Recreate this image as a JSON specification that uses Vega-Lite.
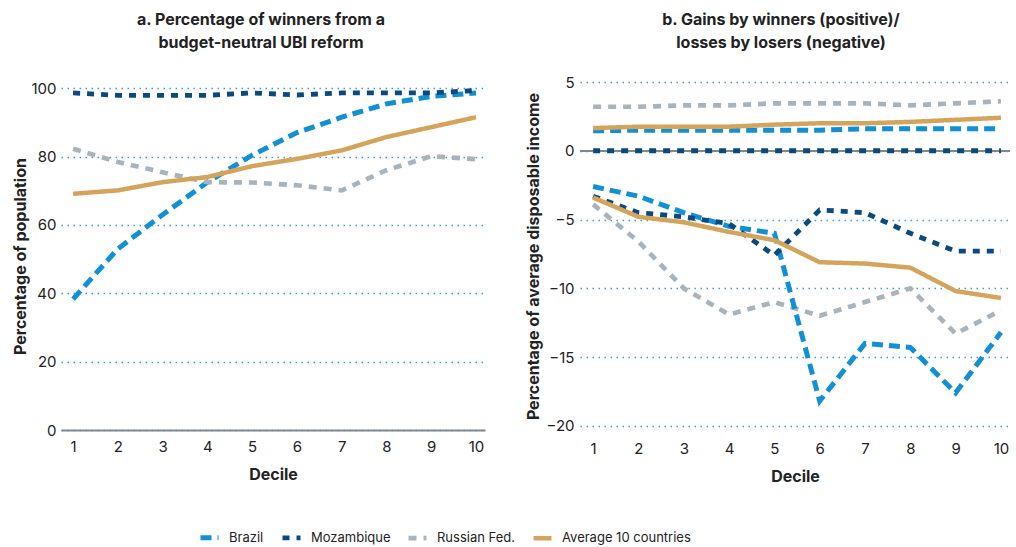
{
  "$schema": "https://vega.github.io/schema/vega-lite/v6.json",
  "padding": {"left": 12, "top": 11, "right": 4, "bottom": 4},
  "background": "white",
  "config": {
    "font": "Inter",
    "view": {"stroke": null},
    "axis": {"labelFont": "Inter", "labelFontSize": 15, "labelColor": "#222222", "titleFont": "Inter", "titleFontSize": 16, "titleFontWeight": "bold", "titleColor": "#222222", "ticks": false, "domain": false, "grid": false},
    "title": {"font": "Inter", "fontSize": 16, "fontWeight": "bold", "color": "#222222", "anchor": "middle", "lineHeight": 23},
    "legend": {"orient": "none", "legendX": 137, "legendY": 444, "direction": "horizontal", "labelFont": "Inter", "labelFontSize": 13, "labelColor": "#222222", "symbolSize": 324, "columnPadding": 8, "labelOffset": 8, "symbolStrokeWidth": 5},
    "concat": {"spacing": 38}
  },
  "datasets": {
    "a": [
      {"c": "Brazil", "d": 1, "v": 38.3}, {"c": "Brazil", "d": 2, "v": 53}, {"c": "Brazil", "d": 3, "v": 63}, {"c": "Brazil", "d": 4, "v": 72.5}, {"c": "Brazil", "d": 5, "v": 80.4}, {"c": "Brazil", "d": 6, "v": 87}, {"c": "Brazil", "d": 7, "v": 91.5}, {"c": "Brazil", "d": 8, "v": 95.4}, {"c": "Brazil", "d": 9, "v": 97.6}, {"c": "Brazil", "d": 10, "v": 98.6},
      {"c": "Mozambique", "d": 1, "v": 98.6}, {"c": "Mozambique", "d": 2, "v": 97.9}, {"c": "Mozambique", "d": 3, "v": 97.9}, {"c": "Mozambique", "d": 4, "v": 97.9}, {"c": "Mozambique", "d": 5, "v": 98.6}, {"c": "Mozambique", "d": 6, "v": 98}, {"c": "Mozambique", "d": 7, "v": 98.6}, {"c": "Mozambique", "d": 8, "v": 98.6}, {"c": "Mozambique", "d": 9, "v": 98.6}, {"c": "Mozambique", "d": 10, "v": 99.3},
      {"c": "Russian Fed.", "d": 1, "v": 82.3}, {"c": "Russian Fed.", "d": 2, "v": 78.4}, {"c": "Russian Fed.", "d": 3, "v": 75.4}, {"c": "Russian Fed.", "d": 4, "v": 72.5}, {"c": "Russian Fed.", "d": 5, "v": 72.4}, {"c": "Russian Fed.", "d": 6, "v": 71.6}, {"c": "Russian Fed.", "d": 7, "v": 70.1}, {"c": "Russian Fed.", "d": 8, "v": 76}, {"c": "Russian Fed.", "d": 9, "v": 80.1}, {"c": "Russian Fed.", "d": 10, "v": 79.2},
      {"c": "Average 10 countries", "d": 1, "v": 69.1}, {"c": "Average 10 countries", "d": 2, "v": 70.1}, {"c": "Average 10 countries", "d": 3, "v": 72.5}, {"c": "Average 10 countries", "d": 4, "v": 74}, {"c": "Average 10 countries", "d": 5, "v": 77.2}, {"c": "Average 10 countries", "d": 6, "v": 79.3}, {"c": "Average 10 countries", "d": 7, "v": 81.8}, {"c": "Average 10 countries", "d": 8, "v": 85.7}, {"c": "Average 10 countries", "d": 9, "v": 88.6}, {"c": "Average 10 countries", "d": 10, "v": 91.5}
    ],
    "b": [
      {"c": "Russian Fed.", "p": "gain", "d": 1, "v": 3.2}, {"c": "Russian Fed.", "p": "gain", "d": 2, "v": 3.2}, {"c": "Russian Fed.", "p": "gain", "d": 3, "v": 3.3}, {"c": "Russian Fed.", "p": "gain", "d": 4, "v": 3.3}, {"c": "Russian Fed.", "p": "gain", "d": 5, "v": 3.45}, {"c": "Russian Fed.", "p": "gain", "d": 6, "v": 3.45}, {"c": "Russian Fed.", "p": "gain", "d": 7, "v": 3.45}, {"c": "Russian Fed.", "p": "gain", "d": 8, "v": 3.3}, {"c": "Russian Fed.", "p": "gain", "d": 9, "v": 3.45}, {"c": "Russian Fed.", "p": "gain", "d": 10, "v": 3.6},
      {"c": "Russian Fed.", "p": "loss", "d": 1, "v": -3.9}, {"c": "Russian Fed.", "p": "loss", "d": 2, "v": -6.6}, {"c": "Russian Fed.", "p": "loss", "d": 3, "v": -10}, {"c": "Russian Fed.", "p": "loss", "d": 4, "v": -11.9}, {"c": "Russian Fed.", "p": "loss", "d": 5, "v": -11}, {"c": "Russian Fed.", "p": "loss", "d": 6, "v": -12}, {"c": "Russian Fed.", "p": "loss", "d": 7, "v": -11}, {"c": "Russian Fed.", "p": "loss", "d": 8, "v": -10}, {"c": "Russian Fed.", "p": "loss", "d": 9, "v": -13.3}, {"c": "Russian Fed.", "p": "loss", "d": 10, "v": -11.6},
      {"c": "Brazil", "p": "gain", "d": 1, "v": 1.45}, {"c": "Brazil", "p": "gain", "d": 2, "v": 1.5}, {"c": "Brazil", "p": "gain", "d": 3, "v": 1.5}, {"c": "Brazil", "p": "gain", "d": 4, "v": 1.5}, {"c": "Brazil", "p": "gain", "d": 5, "v": 1.5}, {"c": "Brazil", "p": "gain", "d": 6, "v": 1.5}, {"c": "Brazil", "p": "gain", "d": 7, "v": 1.6}, {"c": "Brazil", "p": "gain", "d": 8, "v": 1.6}, {"c": "Brazil", "p": "gain", "d": 9, "v": 1.6}, {"c": "Brazil", "p": "gain", "d": 10, "v": 1.6},
      {"c": "Brazil", "p": "loss", "d": 1, "v": -2.6}, {"c": "Brazil", "p": "loss", "d": 2, "v": -3.3}, {"c": "Brazil", "p": "loss", "d": 3, "v": -4.5}, {"c": "Brazil", "p": "loss", "d": 4, "v": -5.5}, {"c": "Brazil", "p": "loss", "d": 5, "v": -6}, {"c": "Brazil", "p": "loss", "d": 6, "v": -18.2}, {"c": "Brazil", "p": "loss", "d": 7, "v": -14}, {"c": "Brazil", "p": "loss", "d": 8, "v": -14.3}, {"c": "Brazil", "p": "loss", "d": 9, "v": -17.6}, {"c": "Brazil", "p": "loss", "d": 10, "v": -13.2},
      {"c": "Mozambique", "p": "gain", "d": 1, "v": 0}, {"c": "Mozambique", "p": "gain", "d": 2, "v": 0}, {"c": "Mozambique", "p": "gain", "d": 3, "v": 0}, {"c": "Mozambique", "p": "gain", "d": 4, "v": 0}, {"c": "Mozambique", "p": "gain", "d": 5, "v": 0}, {"c": "Mozambique", "p": "gain", "d": 6, "v": 0}, {"c": "Mozambique", "p": "gain", "d": 7, "v": 0}, {"c": "Mozambique", "p": "gain", "d": 8, "v": 0}, {"c": "Mozambique", "p": "gain", "d": 9, "v": 0}, {"c": "Mozambique", "p": "gain", "d": 10, "v": 0},
      {"c": "Mozambique", "p": "loss", "d": 1, "v": -3.3}, {"c": "Mozambique", "p": "loss", "d": 2, "v": -4.5}, {"c": "Mozambique", "p": "loss", "d": 3, "v": -4.8}, {"c": "Mozambique", "p": "loss", "d": 4, "v": -5.3}, {"c": "Mozambique", "p": "loss", "d": 5, "v": -7.6}, {"c": "Mozambique", "p": "loss", "d": 6, "v": -4.3}, {"c": "Mozambique", "p": "loss", "d": 7, "v": -4.5}, {"c": "Mozambique", "p": "loss", "d": 8, "v": -6}, {"c": "Mozambique", "p": "loss", "d": 9, "v": -7.3}, {"c": "Mozambique", "p": "loss", "d": 10, "v": -7.3},
      {"c": "Average 10 countries", "p": "gain", "d": 1, "v": 1.65}, {"c": "Average 10 countries", "p": "gain", "d": 2, "v": 1.75}, {"c": "Average 10 countries", "p": "gain", "d": 3, "v": 1.75}, {"c": "Average 10 countries", "p": "gain", "d": 4, "v": 1.75}, {"c": "Average 10 countries", "p": "gain", "d": 5, "v": 1.9}, {"c": "Average 10 countries", "p": "gain", "d": 6, "v": 2}, {"c": "Average 10 countries", "p": "gain", "d": 7, "v": 2}, {"c": "Average 10 countries", "p": "gain", "d": 8, "v": 2.1}, {"c": "Average 10 countries", "p": "gain", "d": 9, "v": 2.25}, {"c": "Average 10 countries", "p": "gain", "d": 10, "v": 2.4},
      {"c": "Average 10 countries", "p": "loss", "d": 1, "v": -3.4}, {"c": "Average 10 countries", "p": "loss", "d": 2, "v": -4.8}, {"c": "Average 10 countries", "p": "loss", "d": 3, "v": -5.2}, {"c": "Average 10 countries", "p": "loss", "d": 4, "v": -5.9}, {"c": "Average 10 countries", "p": "loss", "d": 5, "v": -6.5}, {"c": "Average 10 countries", "p": "loss", "d": 6, "v": -8.1}, {"c": "Average 10 countries", "p": "loss", "d": 7, "v": -8.2}, {"c": "Average 10 countries", "p": "loss", "d": 8, "v": -8.5}, {"c": "Average 10 countries", "p": "loss", "d": 9, "v": -10.2}, {"c": "Average 10 countries", "p": "loss", "d": 10, "v": -10.7}
    ]
  },
  "hconcat": [
    {
      "title": {"text": ["a. Percentage of winners from a", "budget-neutral UBI reform"], "dx": -12, "offset": 30},
      "width": 424,
      "height": 348,
      "data": {"name": "a"},
      "mark": {"type": "line", "strokeCap": "butt"},
      "encoding": {
        "x": {"field": "d", "type": "quantitative", "scale": {"domain": [0.73, 10.2], "nice": false, "zero": false},
              "axis": {"values": [1, 2, 3, 4, 5, 6, 7, 8, 9, 10], "title": "Decile", "domain": true, "domainColor": "#7f8a8f", "domainWidth": 2, "labelPadding": 9, "titlePadding": 12}},
        "y": {"field": "v", "type": "quantitative", "scale": {"domain": [0, 101.8], "nice": false},
              "axis": {"values": [0, 20, 40, 60, 80, 100], "title": "Percentage of population", "grid": true, "gridColor": "#3a9fd8", "gridDash": [1.5, 4.5], "gridWidth": 1.5, "labelPadding": 5, "titlePadding": 2}},
        "color": {"field": "c", "type": "nominal", "title": null,
                  "scale": {"domain": ["Brazil", "Mozambique", "Russian Fed.", "Average 10 countries"], "range": ["#1190d6", "#0b4a7e", "#a9b3bb", "#d5a45b"]}},
        "strokeDash": {"field": "c", "type": "nominal", "title": null,
                  "scale": {"domain": ["Brazil", "Mozambique", "Russian Fed.", "Average 10 countries"], "range": [[11, 6], [7, 7], [8, 7], [1, 0]]}},
        "strokeWidth": {"field": "c", "type": "nominal", "title": null,
                  "scale": {"domain": ["Brazil", "Mozambique", "Russian Fed.", "Average 10 countries"], "range": [5, 4.5, 3.5, 4]}},
        "detail": {"field": "c"}
      }
    },
    {
      "title": {"text": ["b. Gains by winners (positive)/", "losses by losers (negative)"], "dx": -14, "offset": 24},
      "width": 430,
      "height": 348,
      "data": {"name": "b"},
      "layer": [
        {
          "mark": {"type": "rule", "color": "#7f8a8f", "strokeWidth": 1.5},
          "encoding": {"y": {"datum": 0}}
        },
        {
          "mark": {"type": "line", "strokeCap": "butt"},
          "encoding": {
            "x": {"field": "d", "type": "quantitative", "scale": {"domain": [0.71, 10.2], "nice": false, "zero": false},
                  "axis": {"values": [1, 2, 3, 4, 5, 6, 7, 8, 9, 10], "title": "Decile", "labelPadding": 11, "titlePadding": 12}},
            "y": {"field": "v", "type": "quantitative", "scale": {"domain": [-20.3, 5], "nice": false, "zero": false},
                  "axis": {"values": [5, 0, -5, -10, -15, -20], "title": "Percentage of average disposable income", "grid": true, "gridColor": "#3a9fd8", "gridDash": [1.5, 4.5], "gridWidth": 1.5, "labelPadding": 6, "titlePadding": 4}},
            "color": {"field": "c", "type": "nominal", "title": null,
                      "scale": {"domain": ["Brazil", "Mozambique", "Russian Fed.", "Average 10 countries"], "range": ["#1190d6", "#0b4a7e", "#a9b3bb", "#d5a45b"]}},
            "strokeDash": {"field": "c", "type": "nominal", "title": null,
                      "scale": {"domain": ["Brazil", "Mozambique", "Russian Fed.", "Average 10 countries"], "range": [[11, 6], [7, 7], [8, 7], [1, 0]]}},
            "strokeWidth": {"field": "c", "type": "nominal", "title": null,
                      "scale": {"domain": ["Brazil", "Mozambique", "Russian Fed.", "Average 10 countries"], "range": [5, 4.5, 3.5, 4]}},
            "detail": {"field": "p"}
          }
        }
      ]
    }
  ],
  "resolve": {"scale": {"color": "shared", "strokeDash": "shared", "strokeWidth": "shared"}, "legend": {"color": "shared", "strokeDash": "shared", "strokeWidth": "shared"}}
}
